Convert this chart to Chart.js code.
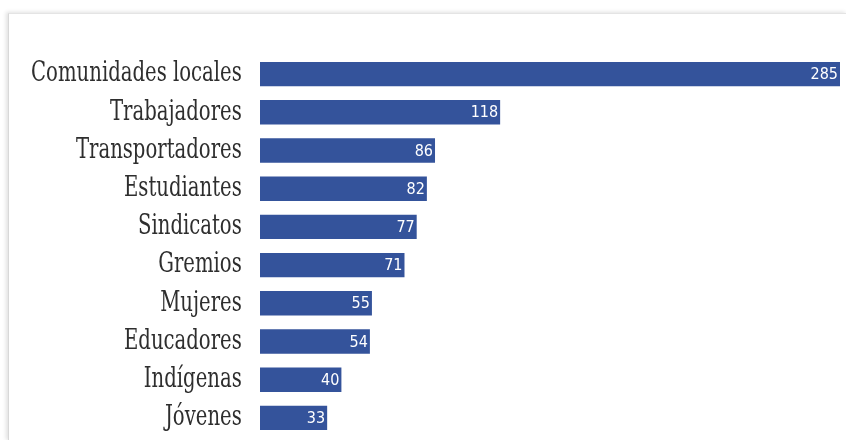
<!DOCTYPE html>
<html>
<head>
<meta charset="utf-8">
<script src="https://cdn.jsdelivr.net/npm/chart.js@4.4.1/dist/chart.umd.min.js"></script>
<style>
  html, body { margin: 0; padding: 0; background: #fff; overflow: hidden; width: 846px; height: 440px; }
  #marco {
    position: absolute; left: 8px; top: 13px; width: 838px; height: 427px;
    border-top: 1px solid #e4e4e4; border-left: 1px solid #d8d8d8;
    box-shadow: -2px -1px 4px rgba(0,0,0,0.12);
  }
  #graficoActores { position: absolute; left: 0; top: 0; }
</style>
</head>
<body>
<div id="marco"></div>
<canvas id="graficoActores" width="846" height="440"></canvas>
<script>
// datos del grafico
const categorias = ['Comunidades locales', 'Trabajadores', 'Transportadores', 'Estudiantes',
  'Sindicatos', 'Gremios', 'Mujeres', 'Educadores', 'Indígenas', 'Jóvenes'];
const valores = [285, 118, 86, 82, 77, 71, 55, 54, 40, 33];

// borde derecho de las etiquetas y compresion horizontal del texto
const bordeOriginal = 258;
const bordeEtiquetas = 248;
const compresion = 0.78;

// comprime horizontalmente las etiquetas del eje (letra alta y estrecha)
const etiquetasEstrechas = {
  id: 'etiquetasEstrechas',
  beforeDraw(chart) {
    const ctx = chart.ctx;
    ctx.save();
    ctx.translate(bordeEtiquetas, 0);
    ctx.scale(compresion, 1);
    ctx.translate(-bordeOriginal, 0);
  },
  beforeDatasetsDraw(chart) {
    chart.ctx.restore();
  }
};

// etiquetas blancas al final de cada barra
const etiquetasValor = {
  id: 'etiquetasValor',
  afterDatasetsDraw(chart) {
    const ctx = chart.ctx;
    const meta = chart.getDatasetMeta(0);
    ctx.save();
    ctx.fillStyle = '#ffffff';
    ctx.font = '16px "DejaVu Sans Condensed"';
    ctx.textAlign = 'right';
    ctx.textBaseline = 'middle';
    meta.data.forEach((barra, i) => {
      ctx.fillText(valores[i], barra.x - 2, barra.y + 1);
    });
    ctx.restore();
  }
};

const graficoActores = new Chart(document.getElementById('graficoActores'), {
  type: 'bar',
  data: {
    labels: categorias,
    datasets: [{
      data: valores,
      backgroundColor: '#34539b',
      barPercentage: 0.64,
      categoryPercentage: 1
    }]
  },
  options: {
    indexAxis: 'y',
    responsive: false,
    animation: false,
    layout: { padding: { left: -40, right: 6, top: 55, bottom: 3 } },
    plugins: { legend: { display: false }, tooltip: { enabled: false } },
    scales: {
      x: {
        min: 0, max: 285,
        display: false
      },
      y: {
        grid: { display: false },
        border: { display: false },
        ticks: {
          color: '#2e2e2e',
          padding: 2,
          font: { family: '"DejaVu Serif Condensed"', size: 28 }
        },
        afterFit(scale) {
          scale.width = 300;
          scale.paddingTop = 0;
          scale.paddingBottom = 0;
        }
      }
    }
  },
  plugins: [etiquetasEstrechas, etiquetasValor]
});
</script>
</body>
</html>
